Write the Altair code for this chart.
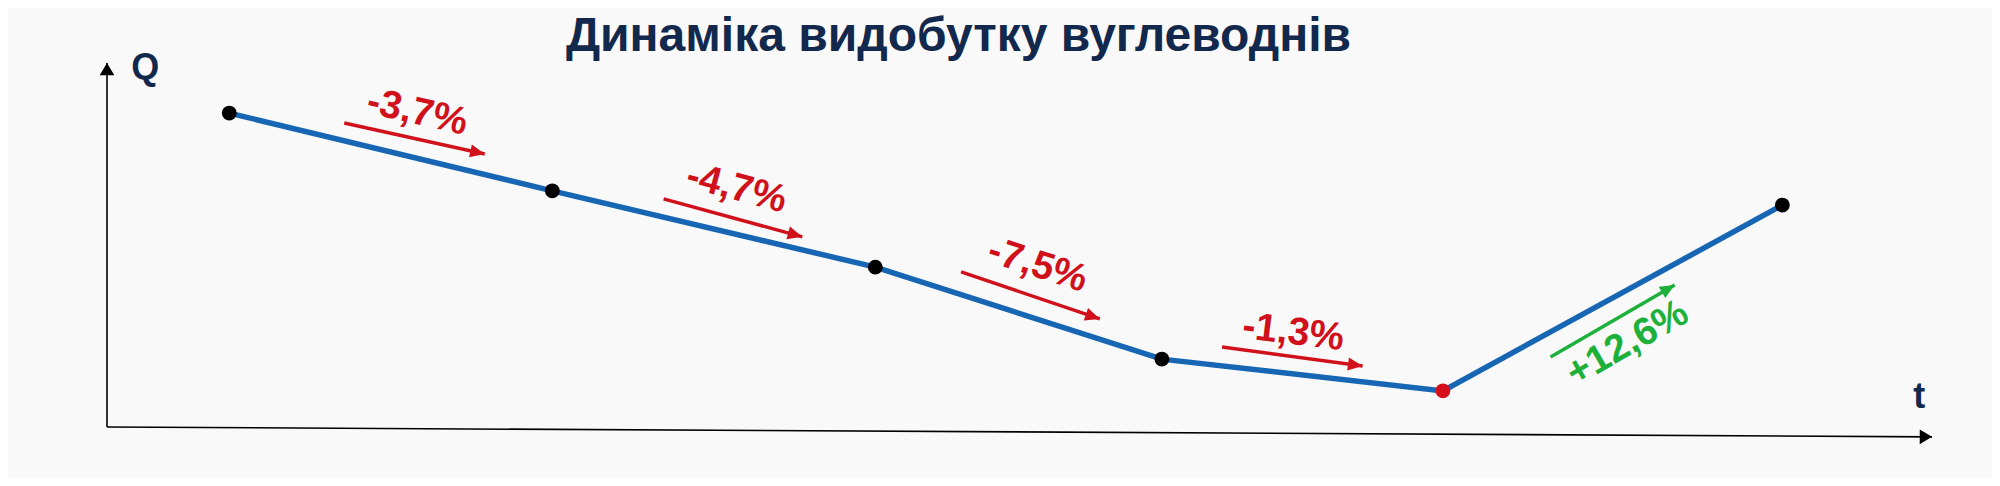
import math
import altair as alt
import pandas as pd

# ---------------- data ----------------
TITLE = "Динаміка видобутку вуглеводнів"

# production curve (t in arbitrary time units, Q in arbitrary output units)
t_vals = [6.7, 24.4, 42.1, 57.8, 73.2, 91.8]
q_vals = [86.0, 64.7, 43.8, 18.6, 9.9, 60.8]
point_kind = ["regular", "regular", "regular", "regular", "minimum", "regular"]

# change annotations
change_labels = ["-3,7%", "-4,7%", "-7,5%", "-1,3%", "+12,6%"]
change_kind = ["down", "down", "down", "down", "up"]
label_t = [17.0, 34.5, 51.0, 65.0, 83.3]
label_q = [86.3, 65.5, 44.4, 26.0, 23.0]
label_angle = [13, 15, 18, 7, 330]

arrow_t0 = [13.0, 30.5, 46.8, 61.1, 79.1]
arrow_q0 = [83.3, 62.5, 42.5, 21.9, 19.2]
arrow_t1 = [20.7, 38.1, 54.4, 68.8, 85.9]
arrow_q1 = [74.8, 52.1, 29.6, 16.7, 38.9]

# coordinate axes drawn as arrows (origin -> tip)
axis_names = ["Q", "t"]
axis_t1 = [0.0, 100.0]
axis_q1 = [99.7, -2.7]
axis_label_t = [2.1, 99.3]
axis_label_q = [98.4, 8.2]

# ---------------- styling ----------------
W, H = 1825, 365
NAVY = "#13284d"
BLUE = "#1666b3"
RED = "#d0111b"
GREEN = "#1db03a"
BG = "#f9f9f9"
FONT = "Liberation Sans"

kind_color = {"down": RED, "up": GREEN}
dot_color = {"regular": "#000000", "minimum": "#d50f1c"}

xs = alt.Scale(domain=[0, 100], nice=False, zero=False)
ys = alt.Scale(domain=[0, 100], nice=False, zero=False)


def heading(dt, dq):
    return math.degrees(math.atan2(-dq * H / 100.0, dt * W / 100.0)) % 360


curve = pd.DataFrame({"t": t_vals, "q": q_vals,
                      "col": [dot_color[k] for k in point_kind]})
arrows = pd.DataFrame({
    "t0": arrow_t0, "q0": arrow_q0, "t1": arrow_t1, "q1": arrow_q1,
    "col": [kind_color[k] for k in change_kind],
    "ang": [heading(a1 - a0, b1 - b0) for a0, b0, a1, b1 in
            zip(arrow_t0, arrow_q0, arrow_t1, arrow_q1)],
})
labels = pd.DataFrame({"t": label_t, "q": label_q, "txt": change_labels,
                       "ang": label_angle,
                       "col": [kind_color[k] for k in change_kind]})
axes = pd.DataFrame({"name": axis_names, "t0": [0.0, 0.0], "q0": [0.0, 0.0],
                     "t1": axis_t1, "q1": axis_q1,
                     "ang": [heading(a, b) for a, b in zip(axis_t1, axis_q1)]})
axis_labels = pd.DataFrame({"t": axis_label_t, "q": axis_label_q, "txt": axis_names})

X = lambda f: alt.X(f"{f}:Q", scale=xs, axis=None)
Y = lambda f: alt.Y(f"{f}:Q", scale=ys, axis=None)

axis_lines = alt.Chart(axes).mark_rule(color="#000000", strokeWidth=1.6).encode(
    x=X("t0"), y=Y("q0"), x2="t1:Q", y2="q1:Q")
axis_heads = alt.Chart(axes).mark_point(
    shape="M0,0L-2,-1.2L-2,1.2Z", filled=True, opacity=1, color="#000000",
    size=150, strokeWidth=0).encode(
    x=X("t1"), y=Y("q1"), angle=alt.Angle("ang:Q", scale=None))

line = alt.Chart(curve).mark_line(color=BLUE, strokeWidth=5.5).encode(
    x=X("t"), y=Y("q"))
dots = alt.Chart(curve).mark_circle(size=220, opacity=1).encode(
    x=X("t"), y=Y("q"), color=alt.Color("col:N", scale=None))

arrow_lines = alt.Chart(arrows).mark_rule(strokeWidth=3.5).encode(
    x=X("t0"), y=Y("q0"), x2="t1:Q", y2="q1:Q",
    color=alt.Color("col:N", scale=None))
arrow_heads = alt.Chart(arrows).mark_point(
    shape="M0,0L-2,-0.9L-2,0.9Z", filled=True, opacity=1, size=215,
    strokeWidth=0).encode(
    x=X("t1"), y=Y("q1"), angle=alt.Angle("ang:Q", scale=None),
    color=alt.Color("col:N", scale=None))

change_text = alt.Chart(labels).mark_text(
    font=FONT, fontWeight="bold", fontSize=39, align="center",
    baseline="middle").encode(
    x=X("t"), y=Y("q"), text="txt:N",
    angle=alt.Angle("ang:Q", scale=None),
    color=alt.Color("col:N", scale=None))

axis_text = alt.Chart(axis_labels).mark_text(
    font=FONT, fontWeight="bold", fontSize=36, align="center",
    baseline="middle", color=NAVY).encode(
    x=X("t"), y=Y("q"), text="txt:N")

chart = alt.layer(
    axis_lines, axis_heads, line, arrow_lines, arrow_heads, dots,
    change_text, axis_text,
).properties(
    width=W, height=H,
    title=alt.TitleParams(
        text=TITLE, font=FONT, fontSize=48, fontWeight="bold", color=NAVY,
        anchor="middle", frame="group", baseline="alphabetic", offset=0,
        dx=-61, dy=49),
    background=BG,
    padding={"left": 99, "top": 54, "right": 60, "bottom": 51},
    autosize=alt.AutoSizeParams(type="none"),
).configure_view(stroke=None)

chart.save("out.html", embed_options={"renderer": "svg", "actions": False})
